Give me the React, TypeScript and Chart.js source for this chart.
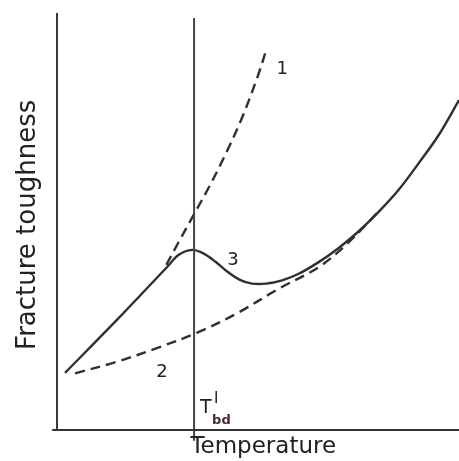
import React, { useEffect, useRef } from "react";
import { Chart, registerables } from "chart.js";

Chart.register(...registerables);

// Curve 3 (solid)
const curve3X = [2.0, 14.9, 27.4, 30.3, 33.6, 36.5, 39.5, 42.5, 45.5, 48.5, 52.0, 56.0, 60.0, 65.0, 70.0, 75.0, 80.0, 85.0, 90.0, 95.0, 100];
const curve3Y = [13.7, 26.4, 39.1, 42.0, 43.2, 42.3, 40.3, 37.9, 36.0, 35.1, 35.1, 35.9, 37.4, 40.2, 43.6, 47.6, 52.3, 57.6, 64.0, 70.8, 79.1];

// Curve 1 (dashed, upper branch)
const curve1X = [27.2, 30.0, 34.0, 38.0, 42.0, 46.0, 50.0, 52.2];
const curve1Y = [39.6, 44.6, 51.6, 58.6, 66.3, 74.8, 85.0, 91.6];

// Curve 2 (dashed, lower branch)
const curve2X = [4.5, 15.0, 25.0, 35.0, 45.0, 55.0, 65.0, 72.0, 80.0];
const curve2Y = [13.6, 16.4, 19.7, 23.4, 28.1, 33.8, 39.0, 44.5, 52.4];

// T'bd position and line extent
const tbdX = 34.1;
const tbdYRange = [-2.6, 98.8];

// Axes extents
const yAxisX = 0;
const yAxisRange = [0, 100];
const xAxisRange = [-1.2, 100];

// Labels
const curveLabels = ["1", "2", "3"];
const curveLabelX = [56.0, 26.1, 43.8];
const curveLabelY = [86.5, 13.9, 40.8];
const xTitle = "Temperature";
const yTitle = "Fracture toughness";
const tbdMain = "T";
const tbdSup = "I";
const tbdSub = "bd";

const toPts = (xs: number[], ys: number[]) => xs.map((x, i) => ({ x, y: ys[i] }));

export default function App() {
  const ref = useRef<HTMLCanvasElement | null>(null);

  useEffect(() => {
    if (!ref.current) return;
    const lineColor = "#303030";
    const textPlugin = {
      id: "texts",
      afterDatasetsDraw(chart: any) {
        const ctx = chart.ctx;
        const xs = chart.scales.x;
        const ys = chart.scales.y;
        const ca = chart.chartArea;
        ctx.save();
        ctx.fillStyle = "#222222";
        ctx.font = "18px 'DejaVu Sans'";
        ctx.textAlign = "center";
        ctx.textBaseline = "middle";
        curveLabels.forEach((t, i) => {
          ctx.fillText(t, xs.getPixelForValue(curveLabelX[i]), ys.getPixelForValue(curveLabelY[i]));
        });
        ctx.font = "23px 'DejaVu Sans'";
        ctx.textAlign = "center";
        ctx.textBaseline = "alphabetic";
        ctx.fillText(xTitle, xs.getPixelForValue(51.3), ca.bottom + 23);
        ctx.save();
        ctx.translate(ca.left - 29, ys.getPixelForValue(49.2));
        ctx.rotate(-Math.PI / 2);
        ctx.font = "26px 'DejaVu Sans'";
        ctx.textAlign = "center";
        ctx.textBaseline = "middle";
        ctx.fillText(yTitle, 0, 0);
        ctx.restore();
        const tx = xs.getPixelForValue(tbdX) + 6;
        const ty = ca.bottom - 17;
        ctx.textAlign = "left";
        ctx.textBaseline = "alphabetic";
        ctx.font = "19px 'DejaVu Sans'";
        ctx.fillText(tbdMain, tx, ty);
        ctx.font = "15px 'DejaVu Sans'";
        ctx.fillText(tbdSup, tx + 14, ty - 10);
        ctx.fillStyle = "#4a2a2a";
        ctx.font = "bold 13px 'DejaVu Sans'";
        ctx.fillText(tbdSub, tx + 12, ty + 11);
        ctx.restore();
      },
    };

    const curve = (xs: number[], ys: number[], dashed: boolean) =>
      ({
        data: toPts(xs, ys),
        showLine: true,
        borderColor: lineColor,
        borderWidth: 2.4,
        borderDash: dashed ? [10, 6] : [],
        pointRadius: 0,
        tension: 0.35,
        clip: false,
      }) as any;

    const chart = new Chart(ref.current, {
      type: "scatter",
      data: {
        datasets: [
          {
            data: [{ x: yAxisX, y: yAxisRange[0] }, { x: yAxisX, y: yAxisRange[1] }],
            showLine: true,
            borderColor: "#3a3448",
            borderWidth: 2,
            pointRadius: 0,
            clip: false,
          } as any,
          {
            data: [{ x: xAxisRange[0], y: 0 }, { x: xAxisRange[1], y: 0 }],
            showLine: true,
            borderColor: "#333333",
            borderWidth: 2,
            pointRadius: 0,
            clip: false,
          } as any,
          {
            data: [{ x: tbdX, y: tbdYRange[0] }, { x: tbdX, y: tbdYRange[1] }],
            showLine: true,
            borderColor: "#4a3f4a",
            borderWidth: 2,
            pointRadius: 0,
            clip: false,
          } as any,
          curve(curve3X, curve3Y, false),
          curve(curve1X, curve1Y, true),
          curve(curve2X, curve2Y, true),
        ],
      },
      options: {
        animation: false,
        responsive: false,
        devicePixelRatio: 1,
        layout: { padding: { left: 57, right: 0, top: 13, bottom: 31 } },
        plugins: { legend: { display: false }, tooltip: { enabled: false } },
        scales: {
          x: { type: "linear", min: 0, max: 100, display: false },
          y: { type: "linear", min: 0, max: 100, display: false },
        },
      },
      plugins: [textPlugin],
    });
    return () => chart.destroy();
  }, []);

  return (
    <div style={{ position: "fixed", left: 0, top: 0, width: 459, height: 461, background: "#fff" }}>
      <canvas ref={ref} width={459} height={461} style={{ display: "block" }} />
    </div>
  );
}
